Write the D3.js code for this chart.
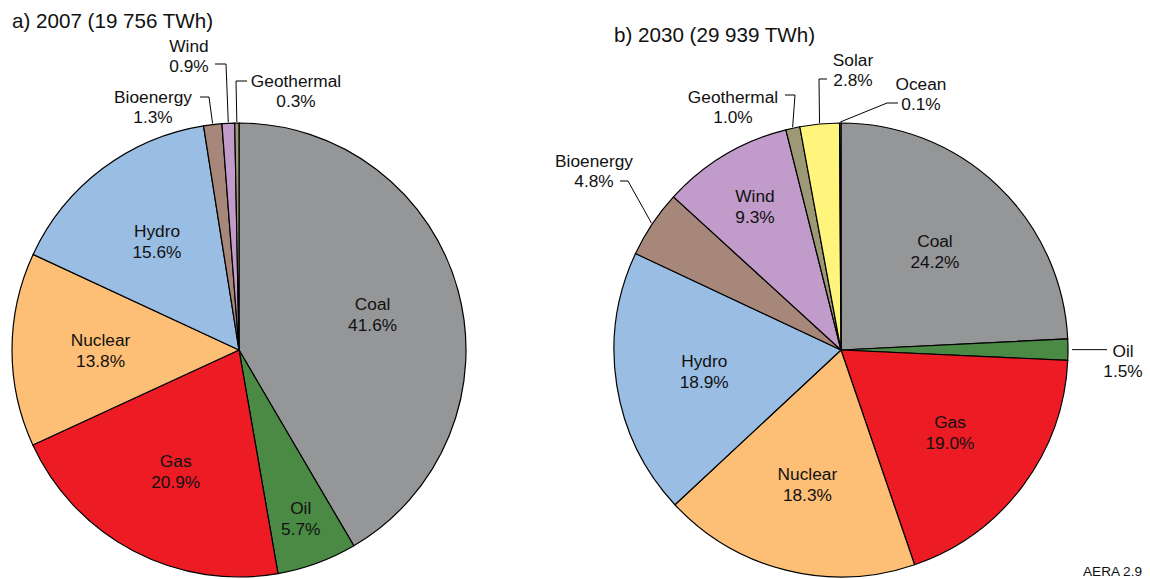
<!DOCTYPE html>
<html>
<head>
<meta charset="utf-8">
<script src="https://cdn.jsdelivr.net/npm/d3@7"></script>
<style>
  body { margin: 0; background: #fff; }
  text { font-family: "Liberation Sans", Arial, Helvetica, sans-serif; fill: #111; }
</style>
</head>
<body>
<div id="chart"></div>
<script>
// Data
const sources2007 = ["Coal", "Oil", "Gas", "Nuclear", "Hydro", "Bioenergy", "Wind", "Geothermal"]
const shares2007 = [41.6, 5.7, 20.9, 13.8, 15.6, 1.3, 0.9, 0.3]
const sources2030 = ["Coal", "Oil", "Gas", "Nuclear", "Hydro", "Bioenergy", "Wind", "Geothermal", "Solar", "Ocean"]
const shares2030 = [24.2, 1.5, 19.0, 18.3, 18.9, 4.8, 9.3, 1.0, 2.8, 0.1]
const titles = ["a) 2007 (19 756 TWh)", "b) 2030 (29 939 TWh)"]

// Colours per source
const colors = {
  Coal: "#959698", Oil: "#4b8a45", Gas: "#ed1c24", Nuclear: "#fdbf75",
  Hydro: "#99bde3", Bioenergy: "#a8877b", Wind: "#c19bc9",
  Geothermal: "#9d9977", Solar: "#fff57d", Ocean: "#7fb2d9"
}

// Layout
const W = 1150, H = 579
const labelSize = 17.3
const svg = d3.select("#chart").append("svg").attr("width", W).attr("height", H)

const pies = [
  {
    names: sources2007, values: shares2007, title: titles[0],
    cx: 239, cy: 350, r: 227, titleX: 12, titleY: 28,
    inside: { Coal: 0.61, Oil: 0.79, Gas: 0.6, Nuclear: 0.61, Hydro: 0.6 },
    // outside labels: text anchor point, leader path elbow
    outside: {
      Wind: { tx: 189, ty: 52, lx: 215, ly: 64, ex: 226 },
      Bioenergy: { tx: 153, ty: 103, lx: 200, ly: 97, ex: 209 },
      Geothermal: { tx: 296, ty: 87, lx: 247, ly: 81, ex: 236 }
    }
  },
  {
    names: sources2030, values: shares2030, title: titles[1],
    cx: 841, cy: 350, r: 227, titleX: 614, titleY: 42,
    inside: { Coal: 0.6, Gas: 0.6, Nuclear: 0.61, Hydro: 0.61, Wind: 0.74 },
    outside: {
      Oil: { tx: 1123, ty: 357, lx: 1107, ly: 350, ex: 1107, straight: true },
      Bioenergy: { tx: 594, ty: 167, lx: 620, ly: 181, ex: 628 },
      Geothermal: { tx: 733, ty: 103, lx: 785, ly: 95, ex: 795 },
      Solar: { tx: 853, ty: 66, lx: 827, ly: 79, ex: 819 },
      Ocean: { tx: 921, ty: 90, lx: 898, ly: 103, ex: 887 }
    }
  }
]

pies.forEach(p => {
  const data = p.names.map((n, i) => ({ name: n, value: p.values[i] }))
  const arcs = d3.pie().sort(null).value(d => d.value)(data)
  const arc = d3.arc().innerRadius(0).outerRadius(p.r)

  svg.append("text")
    .attr("x", p.titleX).attr("y", p.titleY)
    .attr("font-size", 20.6)
    .text(p.title)

  const g = svg.append("g").attr("transform", `translate(${p.cx},${p.cy})`)

  g.selectAll("path")
    .data(arcs)
    .join("path")
    .attr("d", arc)
    .attr("fill", d => colors[d.data.name])
    .attr("stroke", "#000")
    .attr("stroke-width", 1.2)
    .attr("stroke-linejoin", "round")

  // Labels inside slices
  arcs.filter(d => p.inside[d.data.name] !== undefined).forEach(d => {
    const k = p.inside[d.data.name]
    const a = (d.startAngle + d.endAngle) / 2
    const x = Math.sin(a) * p.r * k, y = -Math.cos(a) * p.r * k
    const t = g.append("text").attr("text-anchor", "middle").attr("font-size", labelSize)
    t.append("tspan").attr("x", x).attr("y", y - 4).text(d.data.name)
    t.append("tspan").attr("x", x).attr("y", y + 17).text(d.data.value.toFixed(1) + "%")
  })

  // Labels outside with leader lines
  arcs.filter(d => p.outside[d.data.name]).forEach(d => {
    const o = p.outside[d.data.name]
    const a = (d.startAngle + d.endAngle) / 2
    const ax = p.cx + Math.sin(a) * (p.r + 1), ay = p.cy - Math.cos(a) * (p.r + 1)
    const pts = o.straight
      ? [[ax + 3, ay], [o.lx, ay]]
      : [[o.lx, o.ly], [o.ex, o.ly], [ax, ay]]
    svg.append("path")
      .attr("d", d3.line()(pts))
      .attr("fill", "none").attr("stroke", "#000").attr("stroke-width", 1)
    const t = svg.append("text").attr("text-anchor", "middle").attr("font-size", labelSize)
    t.append("tspan").attr("x", o.tx).attr("y", o.ty).text(d.data.name)
    t.append("tspan").attr("x", o.tx).attr("y", o.ty + 20).text(d.data.value.toFixed(1) + "%")
  })
})

svg.append("text")
  .attr("x", 1142).attr("y", 576)
  .attr("text-anchor", "end").attr("font-size", 13.6)
  .text("AERA 2.9")
</script>
</body>
</html>
